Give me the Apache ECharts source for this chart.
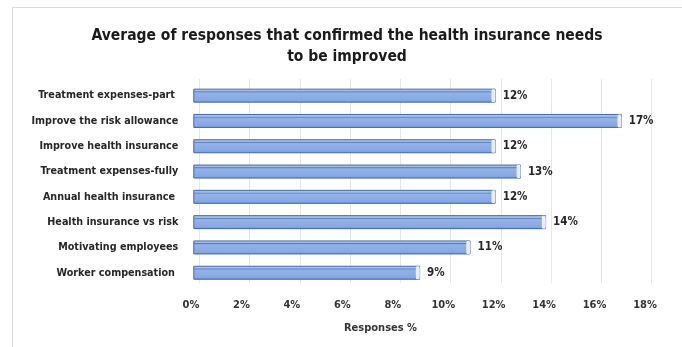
<!DOCTYPE html>
<html><head><meta charset="utf-8">
<script src="https://cdn.jsdelivr.net/npm/echarts@6/dist/echarts.min.js"></script>
<style>html,body{margin:0;padding:0;background:#fff}#c{width:682px;height:347px}</style>
</head><body><div id="c"></div>
<script>
const categories = ["Treatment expenses-part ", "Improve the risk allowance", "Improve health insurance", "Treatment expenses-fully", "Annual health insurance ", "Health insurance vs risk", "Motivating employees", "Worker compensation "];
const values = [12, 17, 12, 13, 12, 14, 11, 9];
const xTicks = [0, 2, 4, 6, 8, 10, 12, 14, 16, 18];
const titleText = "Average of responses that confirmed the health insurance needs\nto be improved";
const xAxisName = "Responses %";

const FONT = "'Liberation Sans Narrow', 'DejaVu Sans Condensed', sans-serif";
const chart = echarts.init(document.getElementById('c'));
const gTop = 83, gH = 202.4;
chart.setOption({
  animation: false,
  title: [{
    text: xAxisName, left: 339, top: 318,
    textStyle: {fontFamily: FONT, fontSize: 11, fontWeight: 'bold', color: '#333'}
  }],
  graphic: [
    {type: 'rect', shape: {x: 12.5, y: 7.5, width: 700, height: 400}, style: {fill: 'none', stroke: '#d9d9d9', lineWidth: 1}, silent: true},
    {type: 'text', x: 347, y: 25, silent: true,
      style: {text: titleText, textAlign: 'center', textVerticalAlign: 'top', fill: '#1a1a1a',
        fontFamily: FONT, fontSize: 15.5, fontWeight: 'bold', lineHeight: 21}}
  ],
  grid: [
    {left: 193.3, right: 682 - (193.3 + 18 * 25.2), top: gTop, height: gH},
    {left: 191, right: 682 - 645, top: gTop, height: gH},
    {left: 199.5, right: 682 - 651.5, top: gTop - 4, height: gH + 2}
  ],
  xAxis: [
    {gridIndex: 0, type: 'value', min: 0, max: 18, interval: 2, axisLabel: {show: false}, splitLine: {show: false}, axisLine: {show: false}, axisTick: {show: false}},
    {gridIndex: 1, type: 'value', min: xTicks[0], max: xTicks[xTicks.length - 1], interval: 2, position: 'bottom',
      axisLabel: {formatter: v => v + '%', fontFamily: FONT, fontSize: 11, fontWeight: 'bold', color: '#333', margin: 14},
      splitLine: {show: false}, axisLine: {show: false}, axisTick: {show: false}},
    {gridIndex: 2, type: 'value', min: 0, max: 18, interval: 2, axisLabel: {show: false}, axisLine: {show: false}, axisTick: {show: false},
      splitLine: {show: true, lineStyle: {color: '#e6e6e6', width: 1}}}
  ],
  yAxis: [
    {gridIndex: 0, type: 'category', data: categories, inverse: true, axisLine: {show: false}, axisTick: {show: false},
      axisLabel: {fontFamily: FONT, fontSize: 10.7, fontWeight: 'bold', color: '#262626', margin: 15}},
    {gridIndex: 1, type: 'category', data: categories, inverse: true, show: false},
    {gridIndex: 2, type: 'category', data: categories, inverse: true, show: false}
  ],
  series: [
    {type: 'bar', xAxisIndex: 0, yAxisIndex: 0, data: values, barWidth: 14,
      itemStyle: {
        color: new echarts.graphic.LinearGradient(0, 0, 0, 1, [
          {offset: 0, color: '#b3c7e8'}, {offset: 0.18, color: '#a0bbe8'},
          {offset: 0.22, color: '#5478bb'}, {offset: 0.3, color: '#93b3e8'},
          {offset: 0.85, color: '#86a8e2'}, {offset: 1, color: '#6588cb'}]),
        borderColor: '#4469ab', borderWidth: 1
      },
      label: {show: true, position: 'right', distance: 7, formatter: p => p.value + '%',
        fontFamily: FONT, fontSize: 11.5, fontWeight: 'bold', color: '#262626'}
    },
    {type: 'pictorialBar', xAxisIndex: 0, yAxisIndex: 0, data: values, symbol: 'roundRect', symbolSize: [4, 13],
      symbolPosition: 'end', symbolOffset: [0, 0], z: 3,
      itemStyle: {color: '#e8eef9', borderColor: '#4469ab', borderWidth: 1}}
  ]
});
</script></body></html>
